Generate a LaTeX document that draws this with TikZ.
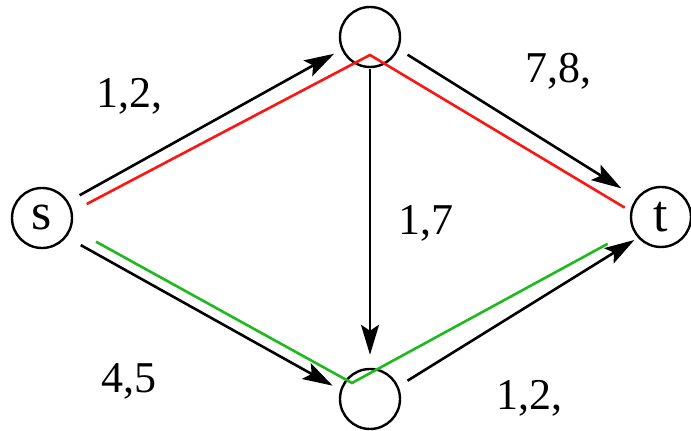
\documentclass[tikz,border=0pt]{standalone}
\usepackage{fontspec}
\setmainfont{Liberation Serif}
\usetikzlibrary{arrows.meta,calc}
\definecolor{redc}{RGB}{255,20,20}
\definecolor{greenc}{RGB}{30,185,30}
\begin{document}
\begin{tikzpicture}[x=0.5pt,y=-0.5pt,
  vertex/.style={circle,draw,line width=1.2pt,minimum size=30pt,inner sep=0pt,font=\fontsize{26}{30}\selectfont},
  arc/.style={line width=1.3pt,-{Stealth[length=15pt,width=9pt,inset=3pt]}},
  redpath/.style={line width=1.3pt,draw=redc},
  greenpath/.style={line width=1.3pt,draw=greenc},
  lbl/.style={anchor=base west,inner sep=0pt,font=\fontsize{22}{26}\selectfont}]
\useasboundingbox (0,0) rectangle (691,431);
\node[vertex] (s) at (42,218) {s};
\node[vertex] (top) at (370,37) {};
\node[vertex] (t) at (661,217) {t};
\node[vertex] (bot) at (370,399) {};
\coordinate (rv) at ($(top)+(0,-9pt)$);
\coordinate (gv) at ($(bot)+(-9pt,8pt)$);
% colored paths
\draw[redpath,shorten <=8pt,shorten >=3.3pt] (s.12.5) -- (rv) -- (t.169);
\draw[greenpath,shorten <=14pt,shorten >=14.3pt] (s.-19.1) -- (gv) -- (t.205.3);
% arrows
\draw[arc,shorten <=6.4pt,shorten >=4.2pt] (s.32.6) -- (top.204.6);
\draw[arc,shorten <=5.2pt,shorten >=8.9pt] (top.-23.4) -- (t.142.6);
\draw[arc,shorten <=8.1pt,shorten >=4.3pt] (s.-38.9) -- (bot.163.4);
\draw[arc,shorten <=5.3pt,shorten >=2pt] (bot.24.7) -- (t.222.6);
\draw[arc,shorten <=0.5pt,shorten >=6.5pt] (top.south) -- (bot.north);
% labels
\node[lbl] (l1) at (96,108) {1,2,};
\node[lbl] (l2) at (525,83) {7,8,};
\node[lbl] (l3) at (398,235) {1,7};
\node[lbl] (l4) at (101,393) {4,5};
\node[lbl] (l5) at (496,410) {1,2,};
\end{tikzpicture}
\end{document}
